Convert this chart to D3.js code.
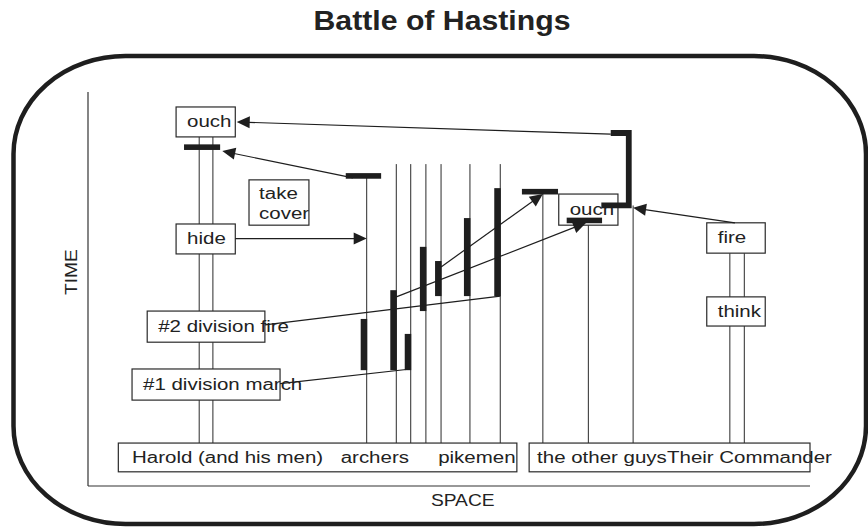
<!DOCTYPE html>
<html>
<head>
<meta charset="utf-8">
<script src="https://cdn.jsdelivr.net/npm/d3@7"></script>
<style>
  html, body { margin: 0; padding: 0; background: #fff; }
  svg { display: block; }
  text { font-family: "Liberation Sans", Arial, Helvetica, sans-serif; fill: #222; }
</style>
</head>
<body>
<svg id="chart" width="868" height="527"></svg>
<script>
// ---------------- DATA (space: 0-100, time: 0-100) ----------------
const title = "Battle of Hastings";
const axisLabels = ["SPACE", "TIME"];

// bottom group labels
const groupLabels = ["Harold (and his men)", "archers", "pikemen", "the other guys", "Their Commander"];
const groupLabelSpace = [6.1, 35.0, 48.5, 62.2, 80.2];
const groupBoxStart = [4.2, 61.1];
const groupBoxEnd = [59.4, 100];
const groupBoxTop = 10.9;
const groupBoxBottom = 3.6;

// lifelines
const lifelineSpace = [15.4, 17.3, 38.6, 42.7, 44.7, 46.8, 48.9, 52.9, 57.1, 63.0, 69.3, 75.5, 88.9, 90.9];
const lifelineStart = [88.6, 88.6, 78.7, 81.7, 81.7, 81.7, 81.7, 81.7, 81.7, 74.7, 67.4, 71.2, 59.1, 59.1];
const lifelineEnd = 10.9;

// event boxes
const eventLabels = ["ouch", "hide", "#2 division fire", "#1 division march", "ouch", "fire", "think"];
const eventStart = [12.2, 12.2, 8.2, 6.1, 65.2, 85.7, 85.7];
const eventEnd   = [20.4, 20.4, 24.5, 26.6, 73.4, 93.8, 93.8];
const eventTop   = [96.2, 66.5, 44.4, 29.7, 74.1, 66.8, 48.0];
const eventBottom= [88.6, 58.9, 36.5, 21.8, 66.2, 59.1, 40.6];

// note box
const noteLines = ["take", "cover"];
const noteBox = { x0: 22.3, x1: 30.6, t0: 77.7, t1: 66.2 };
const noteTextSpace = 23.7;
const noteTextTime = [72.8, 67.8];

// horizontal activity bars
const hBarStart = [13.3, 35.7, 60.1, 66.3];
const hBarEnd   = [18.3, 40.6, 65.1, 71.2];
const hBarTime  = [86.0, 78.7, 74.7, 67.4];

// vertical activity bars (on lifelines)
const vBarSpace = [38.6, 42.7, 44.7, 46.8, 48.9, 52.9, 57.1];
const vBarFrom  = [29.4, 29.4, 29.4, 44.4, 48.2, 48.2, 48.2];
const vBarTo    = [42.4, 49.7, 38.6, 60.7, 57.1, 68.0, 75.6];

// messages
const msgFrom = [[20.4, 62.8], [36.7, 78.2], [72.4, 89.3], [89.6, 66.8], [42.7, 48.0], [48.9, 55.6], [24.5, 40.9], [26.6, 26.0]];
const msgTo   = [[38.6, 62.8], [18.6, 85.0], [20.6, 92.4], [75.5, 70.6], [69.0, 66.8], [63.0, 74.1], [57.1, 48.2], [44.7, 29.7]];
const msgArrow = [true, true, true, true, true, true, false, false];

// bracket (commander's order)
const bracketPts = [[72.4, 89.6], [74.9, 89.6], [74.9, 71.2], [71.1, 71.2]];

// ---------------- DRAW ----------------
const svg = d3.select("#chart");
const x = d3.scaleLinear().domain([0, 100]).range([88, 810]);
const y = d3.scaleLinear().domain([0, 100]).range([486, 92]);
const SX = 1.28;
const ink = "#1e1e1e";

// rounded frame
(function () {
  const L = 13.5, R = 866, T = 56, B = 524, rx = 112, ry = 98;
  const p = `M${L + rx},${T} H${R - rx} A${rx},${ry} 0 0 1 ${R},${T + ry} V${B - ry} A${rx},${ry} 0 0 1 ${R - rx},${B} H${L + rx} A${rx},${ry} 0 0 1 ${L},${B - ry} V${T + ry} A${rx},${ry} 0 0 1 ${L + rx},${T} Z`;
  svg.append("path").attr("d", p).attr("fill", "none").attr("stroke", ink).attr("stroke-width", 4.5);
})();

// title
svg.append("text").attr("transform", "translate(442,30) scale(1.12,1)").attr("text-anchor", "middle")
  .attr("font-size", 27).attr("font-weight", "bold").text(title);

// axes
svg.append("line").attr("x1", x(0)).attr("x2", x(0)).attr("y1", y(100)).attr("y2", y(0))
  .attr("stroke", "#333").attr("stroke-width", 1.2);
svg.append("line").attr("x1", x(0)).attr("x2", x(100)).attr("y1", y(0)).attr("y2", y(0))
  .attr("stroke", "#333").attr("stroke-width", 1.2);
svg.append("text").attr("transform", `translate(${x(51.9)},${y(0) + 20}) scale(1.2,1)`)
  .attr("text-anchor", "middle").attr("font-size", 16).text(axisLabels[0]);
svg.append("text").attr("transform", `translate(${x(0) - 11},${y(54.3)}) rotate(-90) scale(1.2,1)`)
  .attr("text-anchor", "middle").attr("font-size", 16).text(axisLabels[1]);

// lifelines
svg.append("g").selectAll("line").data(lifelineSpace).join("line")
  .attr("x1", d => x(d)).attr("x2", d => x(d))
  .attr("y1", (d, i) => y(lifelineStart[i])).attr("y2", y(lifelineEnd))
  .attr("stroke", "#2a2a2a").attr("stroke-width", 1);

// group label boxes
svg.append("g").selectAll("rect").data(groupBoxStart).join("rect")
  .attr("x", d => x(d)).attr("y", y(groupBoxTop))
  .attr("width", (d, i) => x(groupBoxEnd[i]) - x(d))
  .attr("height", y(groupBoxBottom) - y(groupBoxTop))
  .attr("fill", "#fff").attr("stroke", "#2a2a2a").attr("stroke-width", 1.2);
svg.append("g").selectAll("text").data(groupLabels).join("text")
  .attr("transform", (d, i) => `translate(${x(groupLabelSpace[i])},${y(5.8)}) scale(${SX},1)`)
  .attr("font-size", 16).text(d => d);

// event boxes
const ev = svg.append("g").selectAll("g").data(eventLabels).join("g");
ev.append("rect")
  .attr("x", (d, i) => x(eventStart[i])).attr("y", (d, i) => y(eventTop[i]))
  .attr("width", (d, i) => x(eventEnd[i]) - x(eventStart[i]))
  .attr("height", (d, i) => y(eventBottom[i]) - y(eventTop[i]))
  .attr("fill", "#fff").attr("stroke", "#2a2a2a").attr("stroke-width", 1.2);
ev.append("text")
  .attr("transform", (d, i) => `translate(${x(eventStart[i]) + 11},${(y(eventTop[i]) + y(eventBottom[i])) / 2 + 5.2}) scale(${SX},1)`)
  .attr("font-size", 16).text(d => d);

// note box
svg.append("rect").attr("x", x(noteBox.x0)).attr("y", y(noteBox.t0))
  .attr("width", x(noteBox.x1) - x(noteBox.x0)).attr("height", y(noteBox.t1) - y(noteBox.t0))
  .attr("fill", "#fff").attr("stroke", "#2a2a2a").attr("stroke-width", 1.2);
svg.append("g").selectAll("text").data(noteLines).join("text")
  .attr("transform", (d, i) => `translate(${x(noteTextSpace)},${y(noteTextTime[i])}) scale(${SX},1)`)
  .attr("font-size", 16).text(d => d);

// horizontal bars
svg.append("g").selectAll("rect").data(hBarStart).join("rect")
  .attr("x", d => x(d)).attr("y", (d, i) => y(hBarTime[i]) - 2.8)
  .attr("width", (d, i) => x(hBarEnd[i]) - x(d)).attr("height", 5.6)
  .attr("fill", ink);

// vertical bars
svg.append("g").selectAll("rect").data(vBarSpace).join("rect")
  .attr("x", d => x(d) - 6).attr("y", (d, i) => y(vBarTo[i]))
  .attr("width", 6.5).attr("height", (d, i) => y(vBarFrom[i]) - y(vBarTo[i]))
  .attr("fill", ink);

// bracket
svg.append("path")
  .attr("d", d3.line().x(d => x(d[0])).y(d => y(d[1]))(bracketPts))
  .attr("fill", "none").attr("stroke", ink).attr("stroke-width", 5.8).attr("stroke-linejoin", "miter");

// messages
const mg = svg.append("g");
msgFrom.forEach((f, i) => {
  const x1 = x(f[0]), y1 = y(f[1]), x2 = x(msgTo[i][0]), y2 = y(msgTo[i][1]);
  const a = Math.atan2(y2 - y1, x2 - x1);
  const len = 13, hw = 6;
  const ex = msgArrow[i] ? x2 - Math.cos(a) * (len - 1) : x2;
  const ey = msgArrow[i] ? y2 - Math.sin(a) * (len - 1) : y2;
  mg.append("line").attr("x1", x1).attr("y1", y1).attr("x2", ex).attr("y2", ey)
    .attr("stroke", ink).attr("stroke-width", 1.2);
  if (msgArrow[i]) {
    const bx = x2 - Math.cos(a) * len, by = y2 - Math.sin(a) * len;
    const pts = [[x2, y2],
      [bx + Math.sin(a) * hw, by - Math.cos(a) * hw],
      [bx - Math.sin(a) * hw, by + Math.cos(a) * hw]];
    mg.append("polygon").attr("points", pts.map(p => p.join(",")).join(" ")).attr("fill", ink);
  }
});
</script>
</body>
</html>
